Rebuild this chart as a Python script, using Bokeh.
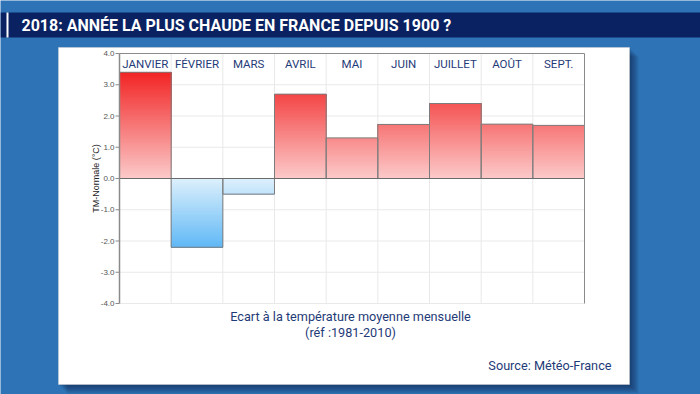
import numpy as np
from bokeh.plotting import figure
from bokeh.models import Range1d
from bokeh.embed import file_html
from bokeh.resources import INLINE
from bokeh.core.properties import value

# ---------------- data ----------------
months = ["JANVIER", "FÉVRIER", "MARS", "AVRIL", "MAI", "JUIN", "JUILLET", "AOÛT", "SEPT."]
anomalies = [3.4, -2.2, -0.5, 2.7, 1.3, 1.73, 2.4, 1.74, 1.70]
y_ticks = [4, 3, 2, 1, 0, -1, -2, -3, -4]
y_tick_labels = ["4.0", "3.0", "2.0", "1.0", "0.0", "-1.0", "-2.0", "-3.0", "-4.0"]
title = "2018: ANNÉE LA PLUS CHAUDE EN FRANCE DEPUIS 1900 ?"
y_label = "TM-Normale (°C)"
subtitle = ["Ecart à la température moyenne mensuelle", "(réf :1981-2010)"]
source = "Source: Météo-France"

# ---------------- layout / style ----------------
W, H = 700, 394
OFF = 0
FL, FR, FT, FB = 119, 584, 53, 303      # chart frame in page pixels
Y_MIN, Y_MAX = -4, 4
BG = "#2e73b5"
NAVY = "#0a2262"
TXT = "#1f3b78"
n = len(months)

p = figure(width=W, height=H, x_range=Range1d(OFF, OFF + W), y_range=Range1d(OFF + H, OFF),
           min_border=0, toolbar_location=None, output_backend="svg",
           x_axis_location=None, y_axis_location=None)
p.grid.visible = False
p.outline_line_color = None
p.background_fill_color = BG
p.border_fill_color = BG

sx = n / (FR - FL)
sy = (Y_MAX - Y_MIN) / (FB - FT)
p.extra_x_ranges = {"cx": Range1d(0 - (FL - OFF) * sx, n + (OFF + W - FR) * sx)}
p.extra_y_ranges = {"cy": Range1d(Y_MIN - (OFF + H - FB) * sy, Y_MAX + (FT - OFF) * sy)}
C = dict(x_range_name="cx", y_range_name="cy")

# panel shadow + white panel
for i in range(9):
    p.quad(left=58 + i + 1, right=629 + i + 1, top=47 + i + 1, bottom=384 + i + 1,
           fill_color="#0a1a40", fill_alpha=0.08, line_color=None)
p.quad(left=58, right=629, top=47, bottom=384, fill_color="white", line_color="#d0d0d0", line_width=0.5)

# title bar
p.quad(left=0, right=700, top=12, bottom=37, fill_color=NAVY, line_color=None)
p.quad(left=6, right=8, top=12, bottom=37, fill_color="white", line_color=None)
p.text(x=[21], y=[25], text=[title], text_color="white", text_font=value("Roboto"),
       text_font_style="bold", text_font_size="16px", text_baseline="middle", text_align="left")

# grid
p.segment(x0=[0] * len(y_ticks), x1=[n] * len(y_ticks), y0=y_ticks, y1=y_ticks,
          line_color="#e9e9e9", line_width=1, **C)
vx = list(range(1, n))
p.segment(x0=vx, x1=vx, y0=[Y_MIN] * len(vx), y1=[Y_MAX] * len(vx),
          line_color="#e9e9e9", line_width=1, **C)

# gradient bars
def col(y):
    if y >= 0:
        t = min(y / 3.4, 1.0)
        a, b = (252, 202, 202), (242, 36, 36)
    else:
        t = min(-y / 2.2, 1.0)
        a, b = (221, 240, 252), (96, 184, 246)
    r, g, bb = (int(round(a[k] + (b[k] - a[k]) * t)) for k in range(3))
    return "#%02x%02x%02x" % (r, g, bb)

N = 60
L, R, B, T, F = [], [], [], [], []
for i, v in enumerate(anomalies):
    for k in range(N):
        y0 = v * k / N
        ym = v * (k + 0.5) / N
        L.append(i); R.append(i + 1)
        B.append(y0); T.append(v)
        F.append(col(ym))
p.quad(left=L, right=R, bottom=B, top=T, fill_color=F, line_color=None, **C)

idx = list(range(n))
p.quad(left=idx, right=[i + 1 for i in idx],
       bottom=[min(0, v) for v in anomalies], top=[max(0, v) for v in anomalies],
       fill_color=None, line_color="#7c7c7c", line_width=1, **C)

# frame lines
p.segment(x0=[0], x1=[n], y0=[0], y1=[0], line_color="#6a6a6a", line_width=1, **C)
p.segment(x0=[0], x1=[n], y0=[Y_MAX], y1=[Y_MAX], line_color="#8a8a8a", line_width=1, **C)
p.segment(x0=[n], x1=[n], y0=[Y_MIN], y1=[Y_MAX], line_color="#8a8a8a", line_width=1, **C)
p.segment(x0=[0], x1=[0], y0=[Y_MIN], y1=[Y_MAX], line_color="#8a8a8a", line_width=1.5, **C)
p.segment(x0=[-4 * sx] * len(y_ticks), x1=[0] * len(y_ticks), y0=y_ticks, y1=y_ticks,
          line_color="#8a8a8a", line_width=1, **C)
p.text(x=[-5 * sx] * len(y_ticks), y=y_ticks, text=y_tick_labels, text_color="#555555",
       text_font=value("Liberation Sans"), text_font_size="8px", text_align="right",
       text_baseline="middle", **C)
p.text(x=[-(FL - 95) * sx], y=[0.0], text=[y_label], angle=np.pi / 2, text_color="#222222",
       text_font=value("Liberation Sans"), text_font_size="9px", text_align="center",
       text_baseline="middle", **C)

# month labels
p.text(x=[i + 0.5 for i in idx], y=[Y_MAX - 10 * sy] * n, text=months, text_color=TXT,
       text_font=value("Roboto"), text_font_size="11.5px", text_align="center",
       text_baseline="middle", **C)

# captions
p.text(x=[350, 350], y=[316, 332], text=subtitle, text_color=TXT, text_font=value("Roboto"),
       text_font_size="12.7px", text_align="center", text_baseline="middle")
p.text(x=[611], y=[365], text=[source], text_color=TXT, text_font=value("Roboto"),
       text_font_size="12.7px", text_align="right", text_baseline="middle")

open("out.html", "w").write(file_html(p, INLINE))
